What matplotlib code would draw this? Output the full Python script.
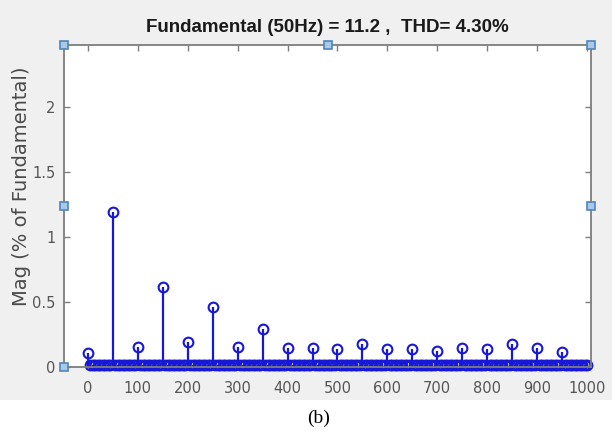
import matplotlib.pyplot as plt
import numpy as np
from matplotlib.patches import Rectangle

# harmonic bins (Hz) and magnitude (% of fundamental)
harm_freq = [0, 50, 100, 150, 200, 250, 300, 350, 400, 450,
             500, 550, 600, 650, 700, 750, 800, 850, 900, 950]
harm_mag = [0.105, 1.19, 0.156, 0.615, 0.195, 0.464, 0.154, 0.29, 0.148, 0.148,
            0.138, 0.18, 0.138, 0.138, 0.125, 0.148, 0.138, 0.18, 0.148, 0.118]

# the in-between bins all sit just on the baseline
bg_freq = [f for f in range(0, 1001, 5) if f not in harm_freq]
bg_mag = [0.012] * len(bg_freq)

x_ticks = [0, 100, 200, 300, 400, 500, 600, 700, 800, 900, 1000]
y_ticks = [0, 0.5, 1, 1.5, 2]
y_tick_labels = ['0', '0.5', '1', '1.5', '2']

title = 'Fundamental (50Hz) = 11.2 ,  THD= 4.30%'
ylabel = 'Mag (% of Fundamental)'
caption = '(b)'

blue = '#1717d8'
grey = '#7d7d7d'

fig = plt.figure(figsize=(6.12, 4.45), dpi=100, facecolor='white')
# grey figure window behind the axes
fig.patches.append(Rectangle((0, 1 - 400 / 445), 1, 400 / 445, transform=fig.transFigure,
                             facecolor='#f0f0f0', edgecolor='none', zorder=-10))

ax = fig.add_axes([64 / 612, 1 - 367 / 445, (591 - 64) / 612, (367 - 45) / 445])
ax.set_facecolor('white')

for freqs, mags in [(bg_freq, bg_mag), (harm_freq, harm_mag)]:
    ml, sl, bl = ax.stem(freqs, mags, basefmt=' ')
    plt.setp(sl, color=blue, linewidth=1.6)
    plt.setp(ml, marker='o', markersize=7, markerfacecolor='none',
             markeredgecolor=blue, markeredgewidth=1.5, clip_on=False)

ax.set_xlim(-48, 1008)
ax.set_ylim(0, 2.48)
ax.set_xticks(x_ticks)
ax.set_yticks(y_ticks)
ax.set_yticklabels(y_tick_labels)
ax.tick_params(direction='in', length=4, width=1, color=grey, labelcolor='#555555',
               labelsize=10.5, top=True, right=True, pad=6)
ax.tick_params(axis='x', pad=10)

for s in ax.spines.values():
    s.set_color(grey)
    s.set_linewidth(1.3)

ax.set_title(title, fontsize=13.5, fontweight='bold', color='#1a1a1a',
             family='Liberation Sans', pad=9)
ax.set_ylabel(ylabel, fontsize=14, color='#4a4a4a')
ax.yaxis.set_label_coords(-0.062, 0.56)

# selection handles on the axes frame
hx = [0, 1, 0, 1, 0, 0.5]
hy = [1, 1, 0.5, 0.5, 0, 1]
ax.plot(hx, hy, linestyle='none', marker='s', markersize=5.5, markerfacecolor='#a9c9e6',
        markeredgecolor='#4f86bd', markeredgewidth=1.2, transform=ax.transAxes,
        clip_on=False, zorder=10)

fig.text(0.52, 1 - 418 / 445, caption, ha='center', va='center', fontsize=14,
         family='Liberation Serif', color='black')

fig.savefig('out.png', dpi=100)
